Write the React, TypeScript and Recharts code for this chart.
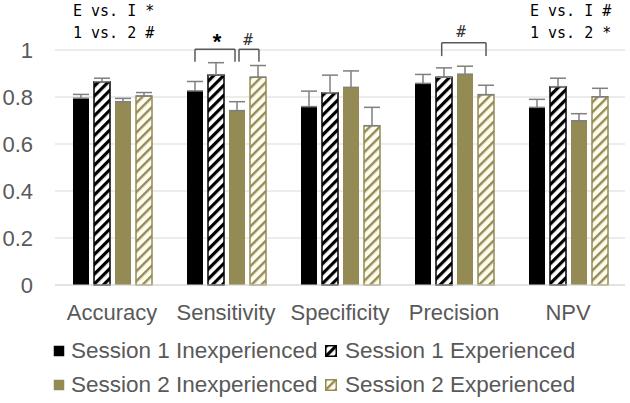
import { BarChart, Bar, XAxis, YAxis, CartesianGrid, ErrorBar, ReferenceLine, ReferenceDot } from "recharts"

const categories = ["Accuracy", "Sensitivity", "Specificity", "Precision", "NPV"]

const s1Inexp = [0.795, 0.826, 0.759, 0.858, 0.756]
const s1Exp = [0.865, 0.894, 0.818, 0.884, 0.844]
const s2Inexp = [0.78, 0.742, 0.841, 0.897, 0.699]
const s2Exp = [0.804, 0.884, 0.678, 0.81, 0.801]

// plus-only error bars (Excel style)
const s1InexpErr = [0.016, 0.04, 0.066, 0.038, 0.034]
const s1ExpErr = [0.015, 0.052, 0.075, 0.04, 0.036]
const s2InexpErr = [0.014, 0.038, 0.07, 0.034, 0.03]
const s2ExpErr = [0.015, 0.05, 0.078, 0.04, 0.036]

const yTicks = [0, 0.2, 0.4, 0.6, 0.8, 1]

const seriesNames = [
  "Session 1 Inexperienced",
  "Session 1 Experienced",
  "Session 2 Inexperienced",
  "Session 2 Experienced",
]

// significance brackets, x in category units (0..5), y in data units
const brackets = [
  { x1: 1.228, x2: 1.579, top: 1.003, bottom: 0.95, mark: "*", mx: 1.421, my: 1.038 },
  { x1: 1.614, x2: 1.789, top: 1.003, bottom: 0.95, mark: "#", mx: 1.693, my: 1.047 },
  { x1: 3.392, x2: 3.781, top: 1.031, bottom: 0.974, mark: "#", mx: 3.561, my: 1.079 },
]

const GOLD = "#948a54"
const GREY_TEXT = "#595959"

const data = categories.map((name, i) => ({
  name,
  pos: i + 0.5,
  s1i: s1Inexp[i],
  s1e: s1Exp[i],
  s2i: s2Inexp[i],
  s2e: s2Exp[i],
  s1iErr: [0, s1InexpErr[i]],
  s1eErr: [0, s1ExpErr[i]],
  s2iErr: [0, s2InexpErr[i]],
  s2eErr: [0, s2ExpErr[i]],
}))

function Patterns({ prefix }: { prefix: string }) {
  return (
    <defs>
      <pattern id={`${prefix}-blackHatch`} patternUnits="userSpaceOnUse" width="7" height="7" patternTransform="rotate(45)">
        <rect width="7" height="7" fill="#fff" />
        <rect width="3.2" height="7" fill="#000" />
      </pattern>
      <pattern id={`${prefix}-goldHatch`} patternUnits="userSpaceOnUse" width="7" height="7" patternTransform="rotate(45)">
        <rect width="7" height="7" fill="#fdfcef" />
        <rect width="2.4" height="7" fill={GOLD} />
      </pattern>
    </defs>
  )
}

function LegendSwatch({ idx }: { idx: number }) {
  const id = `lg${idx}`
  const fills = ["#000", `url(#${id}-blackHatch)`, GOLD, `url(#${id}-goldHatch)`]
  const strokes = ["none", "#000", "none", GOLD]
  return (
    <svg width={12} height={12} style={{ display: "block" }}>
      <Patterns prefix={id} />
      <rect x={0.75} y={0.75} width={10.5} height={10.5} fill={fills[idx]} stroke={strokes[idx]} strokeWidth={1.5} />
    </svg>
  )
}

const legendPos = [
  { sx: 53, tx: 71, cy: 351 },
  { sx: 325, tx: 345, cy: 351 },
  { sx: 53, tx: 71, cy: 385 },
  { sx: 325, tx: 345, cy: 385 },
]

const tickStyle = { fill: GREY_TEXT, fontSize: 22, fontFamily: "Liberation Sans" }
const noteStyle = {
  position: "absolute" as const,
  fontFamily: "DejaVu Sans Mono",
  fontSize: 15,
  lineHeight: "18px",
  color: "#000",
  whiteSpace: "pre" as const,
}

export default function App() {
  return (
    <div style={{ position: "absolute", left: 0, top: 0, width: 630, height: 403, background: "#fff" }}>
      <BarChart
        width={630}
        height={403}
        data={data}
        margin={{ top: 50, right: 5, left: 0, bottom: 78 }}
        barSize={16}
        barGap={5}
      >
        <Patterns prefix="ch" />
        <CartesianGrid vertical={false} stroke="#d9d9d9" strokeWidth={1.2} />
        <XAxis
          dataKey="name"
          height={40}
          axisLine={{ stroke: "#d9d9d9", strokeWidth: 1.2 }}
          tickLine={false}
          tickSize={0}
          tickMargin={19}
          tick={tickStyle}
          interval={0}
        />
        <XAxis xAxisId="n" dataKey="pos" type="number" domain={[0, 5]} allowDataOverflow hide />
        <YAxis
          width={55}
          domain={[0, 1]}
          ticks={yTicks}
          axisLine={false}
          tickLine={false}
          tickSize={0}
          tickMargin={22}
          tick={tickStyle}
        />
        <Bar dataKey="s1i" fill="#000" isAnimationActive={false}>
          <ErrorBar dataKey="s1iErr" width={8} stroke="#7f7f7f" strokeWidth={1.5} direction="y" />
        </Bar>
        <Bar dataKey="s1e" fill="url(#ch-blackHatch)" stroke="#000" strokeWidth={1.5} isAnimationActive={false}>
          <ErrorBar dataKey="s1eErr" width={8} stroke="#7f7f7f" strokeWidth={1.5} direction="y" />
        </Bar>
        <Bar dataKey="s2i" fill={GOLD} isAnimationActive={false}>
          <ErrorBar dataKey="s2iErr" width={8} stroke="#7f7f7f" strokeWidth={1.5} direction="y" />
        </Bar>
        <Bar dataKey="s2e" fill="url(#ch-goldHatch)" stroke={GOLD} strokeWidth={1.5} isAnimationActive={false}>
          <ErrorBar dataKey="s2eErr" width={8} stroke="#7f7f7f" strokeWidth={1.5} direction="y" />
        </Bar>
        {brackets.map((b, i) => [
          <ReferenceLine
            key={`t${i}`}
            xAxisId="n"
            ifOverflow="visible"
            stroke={GREY_TEXT}
            strokeWidth={1.5}
            segment={[{ x: b.x1, y: b.top }, { x: b.x2, y: b.top }]}
          />,
          <ReferenceLine
            key={`l${i}`}
            xAxisId="n"
            ifOverflow="visible"
            stroke={GREY_TEXT}
            strokeWidth={1.5}
            segment={[{ x: b.x1, y: b.top }, { x: b.x1, y: b.bottom }]}
          />,
          <ReferenceLine
            key={`r${i}`}
            xAxisId="n"
            ifOverflow="visible"
            stroke={GREY_TEXT}
            strokeWidth={1.5}
            segment={[{ x: b.x2, y: b.top }, { x: b.x2, y: b.bottom }]}
          />,
          <ReferenceDot
            key={`m${i}`}
            xAxisId="n"
            x={b.mx}
            y={b.my}
            r={0}
            fill="none"
            stroke="none"
            ifOverflow="visible"
            label={{
              value: b.mark,
              position: "center",
              fill: b.mark === "*" ? "#000" : "#333",
              fontSize: b.mark === "*" ? 22 : 16,
              fontWeight: b.mark === "*" ? "bold" : "normal",
              fontFamily: b.mark === "*" ? "Liberation Sans" : "DejaVu Sans Mono",
            }}
          />,
        ])}
      </BarChart>

      <div style={{ ...noteStyle, left: 73, top: 2 }}>E vs. I *</div>
      <div style={{ ...noteStyle, left: 73, top: 24 }}>1 vs. 2 #</div>
      <div style={{ ...noteStyle, left: 530, top: 2 }}>E vs. I #</div>
      <div style={{ ...noteStyle, left: 530, top: 24 }}>1 vs. 2 *</div>

      {seriesNames.map((name, i) => (
        <div key={name}>
          <div style={{ position: "absolute", left: legendPos[i].sx, top: legendPos[i].cy - 6 }}>
            <LegendSwatch idx={i} />
          </div>
          <div
            style={{
              position: "absolute",
              left: legendPos[i].tx,
              top: legendPos[i].cy - 13,
              fontFamily: "Liberation Sans",
              fontSize: 22.5,
              lineHeight: "26px",
              color: GREY_TEXT,
              whiteSpace: "nowrap",
            }}
          >
            {name}
          </div>
        </div>
      ))}
    </div>
  )
}
